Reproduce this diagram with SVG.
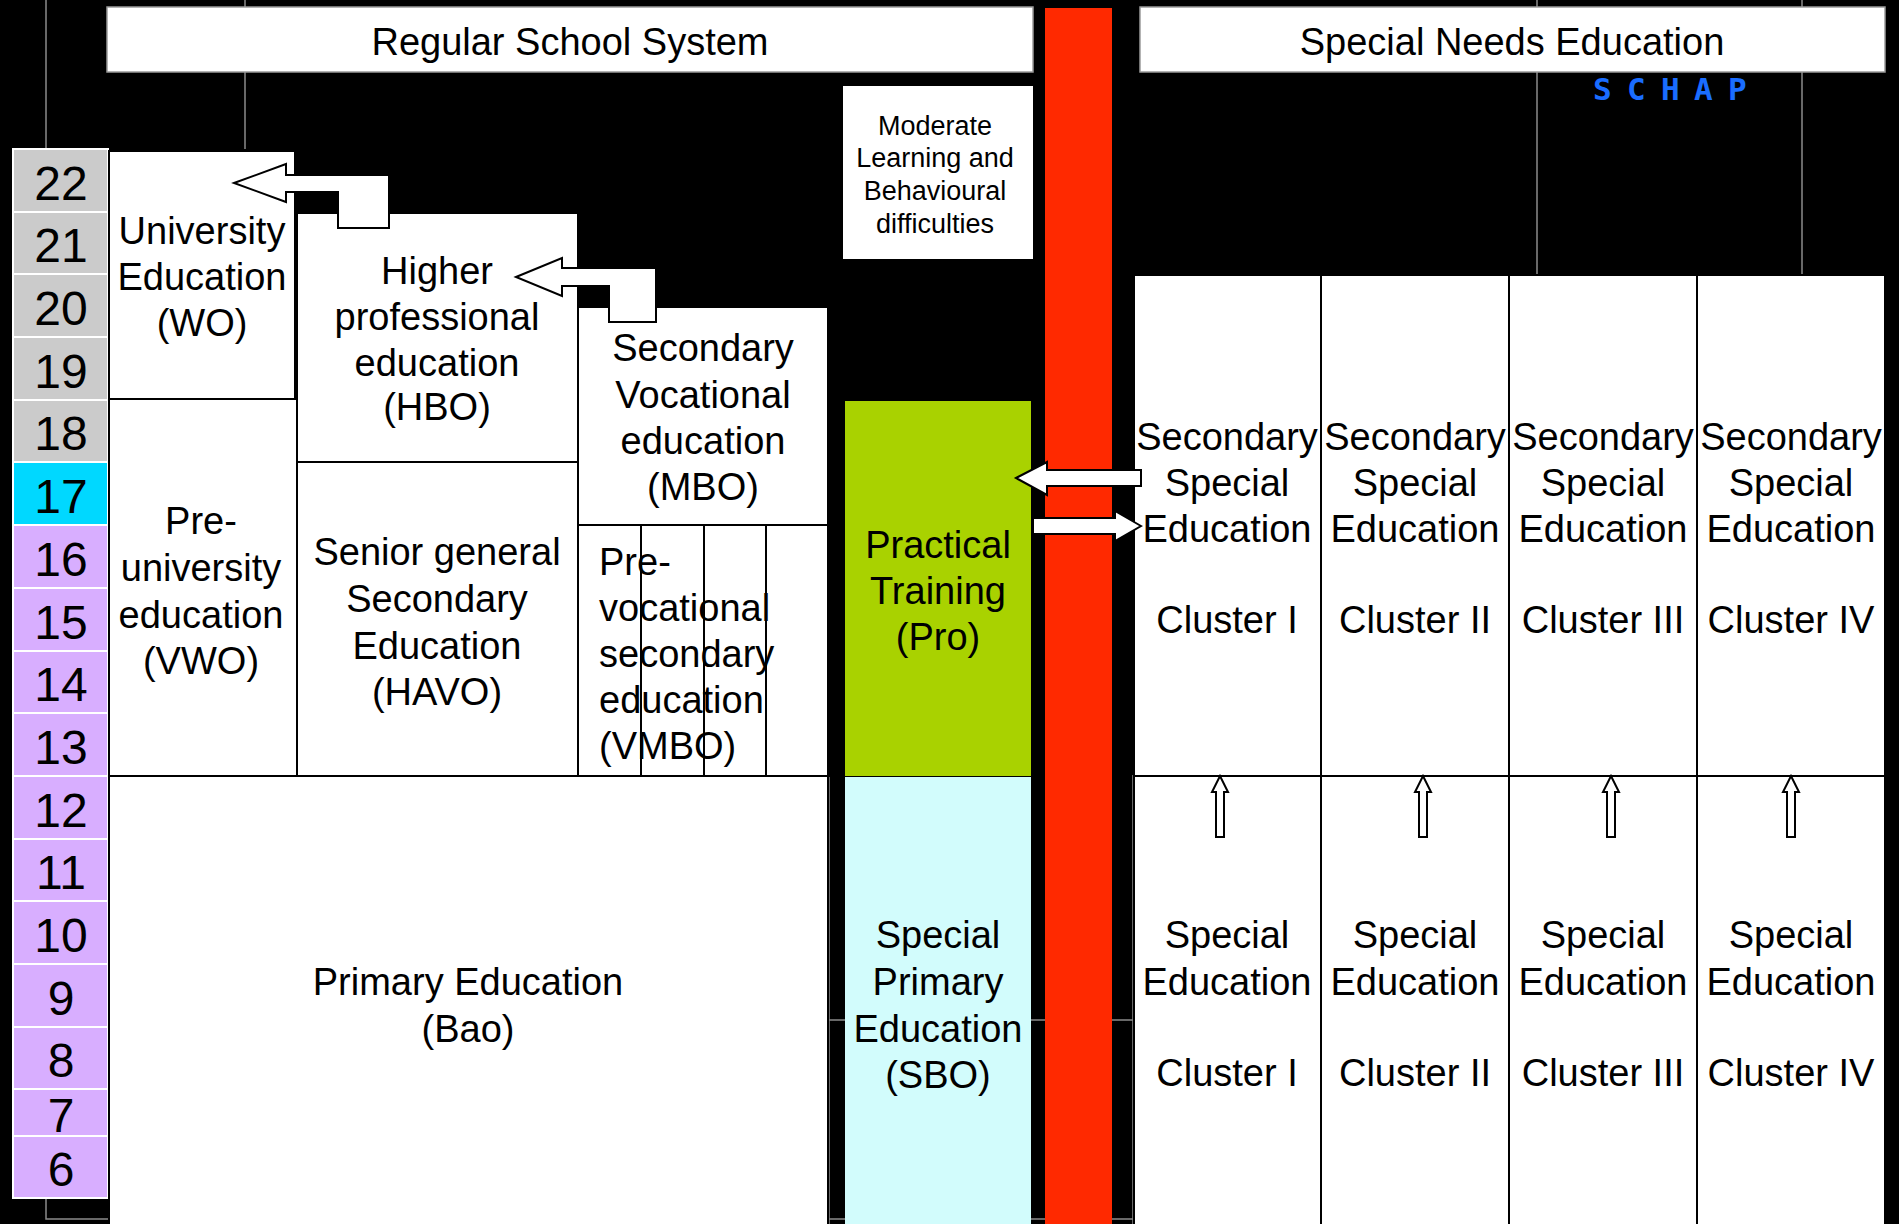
<svg xmlns="http://www.w3.org/2000/svg" width="1899" height="1224" viewBox="0 0 1899 1224">
<style>
.t{font-family:"Liberation Sans",Arial,sans-serif;font-size:38px;fill:#000;text-anchor:middle}
.s{font-size:27px}
.l{text-anchor:start}
.n{font-family:"Liberation Sans",Arial,sans-serif;font-size:48px;fill:#000;text-anchor:middle}
.box{fill:#fff;stroke:#000;stroke-width:2}
.hdr{fill:#fff;stroke:#9a9a9a;stroke-width:1.5}
.grid{stroke:#8a8a8a;stroke-width:1.5;fill:none}
.cg{stroke:#fff;stroke-width:2}
.g{fill:#cbcbcb}
.c{fill:#00d8ff}
.p{fill:#d8aeff}
.arr{fill:#fff;stroke:#000;stroke-width:2;stroke-linejoin:miter}
.vl{stroke:#000;stroke-width:2}
</style>
<rect x="0" y="0" width="1899" height="1224" fill="#000"/>
<g id="grid-lines">
<path class="grid" d="M46 0V149M245 0V149M1537 0V275M1802 0V275M46 1198V1219H108M829 777V1224M1133 775V1224M829 1020H1134M829 1219H1134"/>
</g>
<g id="header-regular">
<rect class="hdr" x="107" y="7" width="926" height="65"/>
<text class="t" x="570" y="55">Regular School System</text>
</g>
<g id="header-special">
<rect class="hdr" x="1140" y="7" width="745" height="65"/>
<text class="t" x="1512" y="55">Special Needs Education</text>
</g>
<g id="schap">
<text x="1593 1627 1661 1694 1728" y="100" font-family="'DejaVu Sans Mono','Liberation Mono',monospace" font-weight="bold" font-size="31" fill="#1a6dff">SCHAP</text>
</g>
<g id="age-column">
<rect class="g cg" x="13" y="149" width="95" height="63"/><text class="n" x="61" y="200">22</text>
<rect class="g cg" x="13" y="212" width="95" height="62"/><text class="n" x="61" y="262">21</text>
<rect class="g cg" x="13" y="274" width="95" height="63"/><text class="n" x="61" y="325">20</text>
<rect class="g cg" x="13" y="337" width="95" height="63"/><text class="n" x="61" y="388">19</text>
<rect class="g cg" x="13" y="400" width="95" height="62"/><text class="n" x="61" y="450">18</text>
<rect class="c cg" x="13" y="462" width="95" height="63"/><text class="n" x="61" y="513">17</text>
<rect class="p cg" x="13" y="525" width="95" height="63"/><text class="n" x="61" y="576">16</text>
<rect class="p cg" x="13" y="588" width="95" height="63"/><text class="n" x="61" y="639">15</text>
<rect class="p cg" x="13" y="651" width="95" height="62"/><text class="n" x="61" y="701">14</text>
<rect class="p cg" x="13" y="713" width="95" height="63"/><text class="n" x="61" y="764">13</text>
<rect class="p cg" x="13" y="776" width="95" height="63"/><text class="n" x="61" y="827">12</text>
<rect class="p cg" x="13" y="839" width="95" height="62"/><text class="n" x="61" y="889">11</text>
<rect class="p cg" x="13" y="901" width="95" height="63"/><text class="n" x="61" y="952">10</text>
<rect class="p cg" x="13" y="964" width="95" height="63"/><text class="n" x="61" y="1015">9</text>
<rect class="p cg" x="13" y="1027" width="95" height="62"/><text class="n" x="61" y="1077">8</text>
<rect class="p cg" x="13" y="1089" width="95" height="47"/><text class="n" x="61" y="1132">7</text>
<rect class="p cg" x="13" y="1136" width="95" height="62"/><text class="n" x="61" y="1186">6</text>
</g>
<g id="wo">
<rect class="box" x="109" y="151" width="186" height="248"/>
<text class="t" x="202" y="244">University</text>
<text class="t" x="202" y="290">Education</text>
<text class="t" x="202" y="336">(WO)</text>
</g>
<g id="hbo">
<rect class="box" x="297" y="213" width="281" height="249"/>
<text class="t" x="437" y="284">Higher</text>
<text class="t" x="437" y="330">professional</text>
<text class="t" x="437" y="376">education</text>
<text class="t" x="437" y="420">(HBO)</text>
</g>
<g id="mbo">
<rect class="box" x="578" y="307" width="250" height="218"/>
<text class="t" x="703" y="361">Secondary</text>
<text class="t" x="703" y="408">Vocational</text>
<text class="t" x="703" y="454">education</text>
<text class="t" x="703" y="500">(MBO)</text>
</g>
<g id="vwo">
<rect class="box" x="109" y="399" width="188" height="377"/>
<text class="t" x="201" y="534">Pre-</text>
<text class="t" x="201" y="581">university</text>
<text class="t" x="201" y="628">education</text>
<text class="t" x="201" y="674">(VWO)</text>
</g>
<g id="havo">
<rect class="box" x="297" y="462" width="281" height="314"/>
<text class="t" x="437" y="565">Senior general</text>
<text class="t" x="437" y="612">Secondary</text>
<text class="t" x="437" y="659">Education</text>
<text class="t" x="437" y="705">(HAVO)</text>
</g>
<g id="vmbo">
<rect class="box" x="578" y="525" width="250" height="251"/>
<text class="t l" x="599" y="575">Pre-</text>
<text class="t l" x="599" y="621">vocational</text>
<text class="t l" x="599" y="667">secondary</text>
<text class="t l" x="599" y="713">education</text>
<text class="t l" x="599" y="759">(VMBO)</text>
<path class="vl" d="M641 525V776M704 525V776M766 525V776"/>
</g>
<g id="primary">
<rect class="box" x="109" y="776" width="719" height="460"/>
<text class="t" x="468" y="995">Primary Education</text>
<text class="t" x="468" y="1042">(Bao)</text>
</g>
<g id="moderate">
<rect x="843" y="86" width="190" height="173" fill="#fff"/>
<text class="t s" x="935" y="135">Moderate</text>
<text class="t s" x="935" y="167">Learning and</text>
<text class="t s" x="935" y="200">Behavioural</text>
<text class="t s" x="935" y="233">difficulties</text>
</g>
<g id="pro">
<rect x="845" y="401" width="186" height="375" fill="#a9d200"/>
<text class="t" x="938" y="558">Practical</text>
<text class="t" x="938" y="604">Training</text>
<text class="t" x="938" y="650">(Pro)</text>
</g>
<g id="sbo">
<rect x="845" y="777" width="186" height="460" fill="#d2fcfc"/>
<text class="t" x="938" y="948">Special</text>
<text class="t" x="938" y="995">Primary</text>
<text class="t" x="938" y="1042">Education</text>
<text class="t" x="938" y="1088">(SBO)</text>
</g>
<g id="red-bar">
<rect x="1045" y="8" width="67" height="1220" fill="#ff2900"/>
</g>
<g id="vso-cluster-1">
<rect class="box" x="1134" y="275" width="187" height="501"/>
<text class="t" x="1227" y="450">Secondary</text>
<text class="t" x="1227" y="496">Special</text>
<text class="t" x="1227" y="542">Education</text>
<text class="t" x="1227" y="633">Cluster I</text>
</g>
<g id="vso-cluster-2">
<rect class="box" x="1321" y="275" width="188" height="501"/>
<text class="t" x="1415" y="450">Secondary</text>
<text class="t" x="1415" y="496">Special</text>
<text class="t" x="1415" y="542">Education</text>
<text class="t" x="1415" y="633">Cluster II</text>
</g>
<g id="vso-cluster-3">
<rect class="box" x="1509" y="275" width="188" height="501"/>
<text class="t" x="1603" y="450">Secondary</text>
<text class="t" x="1603" y="496">Special</text>
<text class="t" x="1603" y="542">Education</text>
<text class="t" x="1603" y="633">Cluster III</text>
</g>
<g id="vso-cluster-4">
<rect class="box" x="1697" y="275" width="188" height="501"/>
<text class="t" x="1791" y="450">Secondary</text>
<text class="t" x="1791" y="496">Special</text>
<text class="t" x="1791" y="542">Education</text>
<text class="t" x="1791" y="633">Cluster IV</text>
</g>
<g id="so-cluster-1">
<rect class="box" x="1134" y="776" width="187" height="460"/>
<text class="t" x="1227" y="948">Special</text>
<text class="t" x="1227" y="995">Education</text>
<text class="t" x="1227" y="1086">Cluster I</text>
</g>
<g id="so-cluster-2">
<rect class="box" x="1321" y="776" width="188" height="460"/>
<text class="t" x="1415" y="948">Special</text>
<text class="t" x="1415" y="995">Education</text>
<text class="t" x="1415" y="1086">Cluster II</text>
</g>
<g id="so-cluster-3">
<rect class="box" x="1509" y="776" width="188" height="460"/>
<text class="t" x="1603" y="948">Special</text>
<text class="t" x="1603" y="995">Education</text>
<text class="t" x="1603" y="1086">Cluster III</text>
</g>
<g id="so-cluster-4">
<rect class="box" x="1697" y="776" width="188" height="460"/>
<text class="t" x="1791" y="948">Special</text>
<text class="t" x="1791" y="995">Education</text>
<text class="t" x="1791" y="1086">Cluster IV</text>
</g>
<g id="connectors">
<path class="arr" d="M234 183L286 164V175H389V228H338V192H286V202Z"/>
<path class="arr" d="M516 277L562 258V268H656V322H609V286H562V296Z"/>
<path class="arr" d="M1016 478L1047 462V470H1141V486H1047V495Z"/>
<path class="arr" d="M1141 526L1115 511V518H1033V534H1115V541Z"/>
<path class="arr" d="M1220 776L1228 792H1224V837H1216V792H1212Z"/>
<path class="arr" d="M1423 776L1431 792H1427V837H1419V792H1415Z"/>
<path class="arr" d="M1611 776L1619 792H1615V837H1607V792H1603Z"/>
<path class="arr" d="M1791 776L1799 792H1795V837H1787V792H1783Z"/>
</g>
</svg>
